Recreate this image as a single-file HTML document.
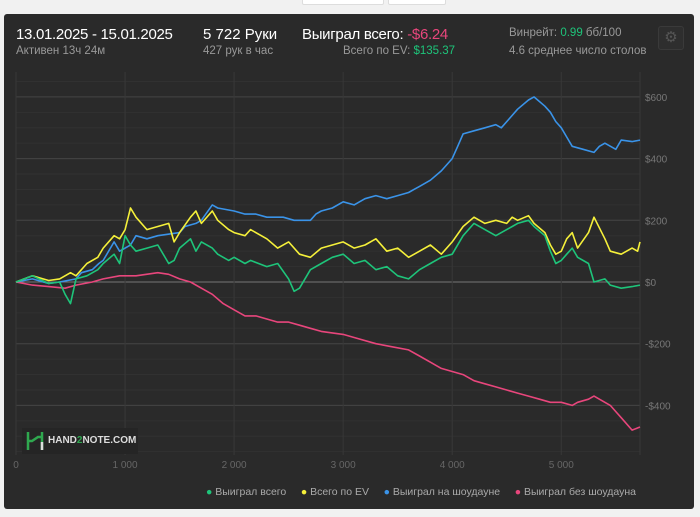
<!DOCTYPE html>
<html><head><meta charset="utf-8"><style>
body{margin:0;width:700px;height:517px;background:#f1f1f1;font-family:"Liberation Sans","DejaVu Sans",sans-serif;overflow:hidden;position:relative}
.panel{position:absolute;left:4px;top:14px;width:690px;height:495px;background:#2a2a2a;border-radius:3px}
.t{position:absolute;white-space:nowrap}
.tab{position:absolute;top:-2px;height:5px;background:#fff;border:1px solid #ddd;border-radius:2px}
</style></head><body>
<div class="tab" style="left:302px;width:80px"></div>
<div class="tab" style="left:388px;width:56px"></div>
<div class="panel"></div>
<div class="t" style="left:16px;top:26px;color:#fff;font-size:15px;letter-spacing:-0.3px">13.01.2025 - 15.01.2025</div>
<div class="t" style="left:16px;top:45px;color:#999;font-size:11.5px">Активен 13ч 24м</div>
<div class="t" style="left:203px;top:26px;color:#fff;font-size:15px">5 722 Руки</div>
<div class="t" style="left:203px;top:45px;color:#999;font-size:11.5px">427 рук в час</div>
<div class="t" style="left:302px;top:26px;color:#fff;font-size:15px;letter-spacing:-0.3px">Выиграл всего: <span style="color:#e8467c">-$6.24</span></div>
<div class="t" style="left:343px;top:45px;color:#999;font-size:11.5px">Всего по EV: <span style="color:#1ec47a">$135.37</span></div>
<div class="t" style="left:509px;top:27px;color:#999;font-size:11.5px">Винрейт: <span style="color:#1ec47a">0.99</span> бб/100</div>
<div class="t" style="left:509px;top:45px;color:#999;font-size:11.5px">4.6 среднее число столов</div>
<div style="position:absolute;left:658px;top:26px;width:24px;height:22px;border:1px solid #3a3a3a;border-radius:3px;background:#2e2e2e;color:#555;font-size:15px;text-align:center;line-height:22px">⚙</div>
<svg id="chart" width="700" height="517" style="position:absolute;left:0;top:0"></svg>
<div style="position:absolute;left:22px;top:428px;width:116px;height:26px;background:#252525">
<svg width="20" height="22" style="position:absolute;left:3px;top:2px"><path d="M3 2v18M17 2v18M3 11h4l6-4h4" stroke="#2fa84f" stroke-width="2.5" fill="none"/><path d="M17 12v8" stroke="#ddd" stroke-width="2.5"/></svg>
<span style="position:absolute;left:26px;top:7px;color:#ddd;font-size:10px;font-weight:bold">HAND<span style="color:#2fa84f">2</span>NOTE.COM</span></div>
<div class="t" style="left:206px;top:486px;color:#aaa;font-size:10.5px">
<span><span style="color:#1ec47a">●</span> Выиграл всего</span>&nbsp;&nbsp;&nbsp;&nbsp;
<span><span style="color:#f5f03a">●</span> Всего по EV</span>&nbsp;&nbsp;&nbsp;&nbsp;
<span><span style="color:#3a93e8">●</span> Выиграл на шоудауне</span>&nbsp;&nbsp;&nbsp;&nbsp;
<span><span style="color:#e8467c">●</span> Выиграл без шоудауна</span></div>
<script>
const xTicks=[0,1000,2000,3000,4000,5000];
const xTickLabels=["0","1 000","2 000","3 000","4 000","5 000"];
const yTicks=[600,400,200,0,-200,-400];
const yTickLabels=["$600","$400","$200","$0","-$200","-$400"];
const blueHands=[0,150,300,400,550,600,700,760,800,900,950,1050,1100,1200,1300,1500,1550,1650,1700,1800,1850,2000,2100,2200,2300,2450,2550,2700,2750,2800,2900,3000,3100,3200,3300,3400,3500,3600,3650,3700,3800,3900,4000,4050,4100,4200,4300,4400,4450,4550,4600,4700,4750,4850,4900,4950,5000,5050,5100,5200,5300,5350,5400,5500,5550,5650,5722];
const blueVals=[0,10,-5,0,10,30,40,60,70,130,100,120,150,140,150,160,180,190,200,250,240,230,220,220,210,210,200,200,220,230,240,260,250,270,280,270,280,290,300,310,330,360,400,440,480,490,500,510,500,540,560,590,600,570,550,520,500,470,440,430,420,440,450,430,460,455,460];
const yellowHands=[0,150,300,400,500,550,650,750,800,900,950,1000,1050,1100,1200,1300,1400,1450,1500,1600,1650,1700,1800,1850,1950,2000,2100,2150,2300,2400,2500,2600,2700,2800,2900,3000,3100,3200,3300,3400,3500,3600,3700,3800,3900,4000,4100,4200,4300,4400,4500,4550,4600,4700,4750,4850,4900,4950,5000,5050,5100,5150,5250,5300,5400,5450,5550,5650,5700,5722];
const yellowVals=[0,20,5,10,30,20,60,80,110,150,140,170,240,210,170,180,190,130,160,210,230,190,230,200,170,160,150,170,140,110,130,90,80,110,120,130,110,120,140,100,110,80,100,120,90,130,180,210,190,200,190,210,200,215,190,160,120,90,100,140,160,110,160,210,140,100,90,110,100,130];
const greenHands=[0,150,300,400,450,500,550,650,750,800,900,950,1000,1050,1100,1200,1300,1400,1450,1500,1600,1650,1700,1800,1850,1950,2000,2100,2150,2300,2400,2500,2550,2600,2700,2800,2900,3000,3100,3200,3300,3400,3500,3600,3700,3800,3900,4000,4100,4200,4300,4400,4500,4550,4600,4700,4750,4850,4900,4950,5000,5050,5100,5150,5250,5300,5400,5450,5550,5650,5722];
const greenVals=[0,20,-5,0,-40,-70,10,20,40,60,90,60,150,120,100,110,120,60,70,110,140,100,130,110,90,70,80,60,70,50,60,10,-30,-20,40,60,80,90,60,70,40,50,20,10,40,60,80,90,150,190,170,150,170,180,190,200,180,150,100,60,70,90,110,80,60,0,10,-10,-20,-15,-10];
const pinkHands=[0,150,300,450,550,700,800,950,1100,1300,1400,1500,1600,1700,1800,1900,2000,2100,2200,2400,2500,2600,2700,2800,3000,3100,3300,3450,3600,3700,3800,3900,4000,4100,4200,4300,4400,4500,4600,4700,4800,4900,5000,5100,5150,5250,5300,5350,5450,5500,5550,5650,5722];
const pinkVals=[0,-10,-15,-20,-10,0,10,20,20,30,25,10,0,-20,-40,-70,-90,-110,-110,-130,-130,-140,-150,-160,-170,-180,-200,-210,-220,-240,-260,-280,-290,-300,-320,-330,-340,-350,-360,-370,-380,-390,-390,-400,-390,-380,-370,-380,-400,-420,-440,-480,-470];
const L=16,R=640,T=72,B=455;
const xs=h=>L+h*(R-L)/5722;
const ys=v=>282-v*61.7/200;
const svg=document.getElementById('chart');
const NS='http://www.w3.org/2000/svg';
function mk(tag,attrs){const e=document.createElementNS(NS,tag);for(const k in attrs)e.setAttribute(k,attrs[k]);svg.appendChild(e);return e;}
for(let v=-550;v<=750;v+=50){const y=ys(v);if(y<T||y>B)continue;const l=mk('line',{x1:L,x2:R,y1:y,y2:y,stroke:'#313131','stroke-width':1});

}
yTicks.forEach((v,i)=>{const y=ys(v);const l=mk('line',{x1:L,x2:R,y1:y,y2:y,stroke:v===0?'#777':'#444','stroke-width':1});


const t=mk('text',{x:R+5,y:y+4,fill:'#777','font-size':10,'font-family':'Liberation Sans, sans-serif'});t.textContent=yTickLabels[i];

});
xTicks.forEach((h,i)=>{const x=xs(h);const l=mk('line',{x1:x,x2:x,y1:T,y2:B,stroke:'#383838','stroke-width':1});


const t=mk('text',{x:x,y:468,fill:'#666','font-size':10,'text-anchor':'middle','font-family':'Liberation Sans, sans-serif'});t.textContent=xTickLabels[i];

});
const rb=mk('line',{x1:R,x2:R,y1:T,y2:B,stroke:'#383838'});


function series(hs,vs,color,name){let d='';hs.forEach((h,i)=>{d+=(i?' L':'M')+xs(h).toFixed(1)+' '+ys(vs[i]).toFixed(1);});
const p=mk('path',{d:d,stroke:color,'stroke-width':1.6,fill:'none','stroke-linejoin':'round'});

}
series(pinkHands,pinkVals,'#e8467c','nonshowdown-line');
series(blueHands,blueVals,'#3a93e8','showdown-line');
series(yellowHands,yellowVals,'#f5f03a','ev-line');
series(greenHands,greenVals,'#1ec47a','total-won-line');
</script>
</body></html>
